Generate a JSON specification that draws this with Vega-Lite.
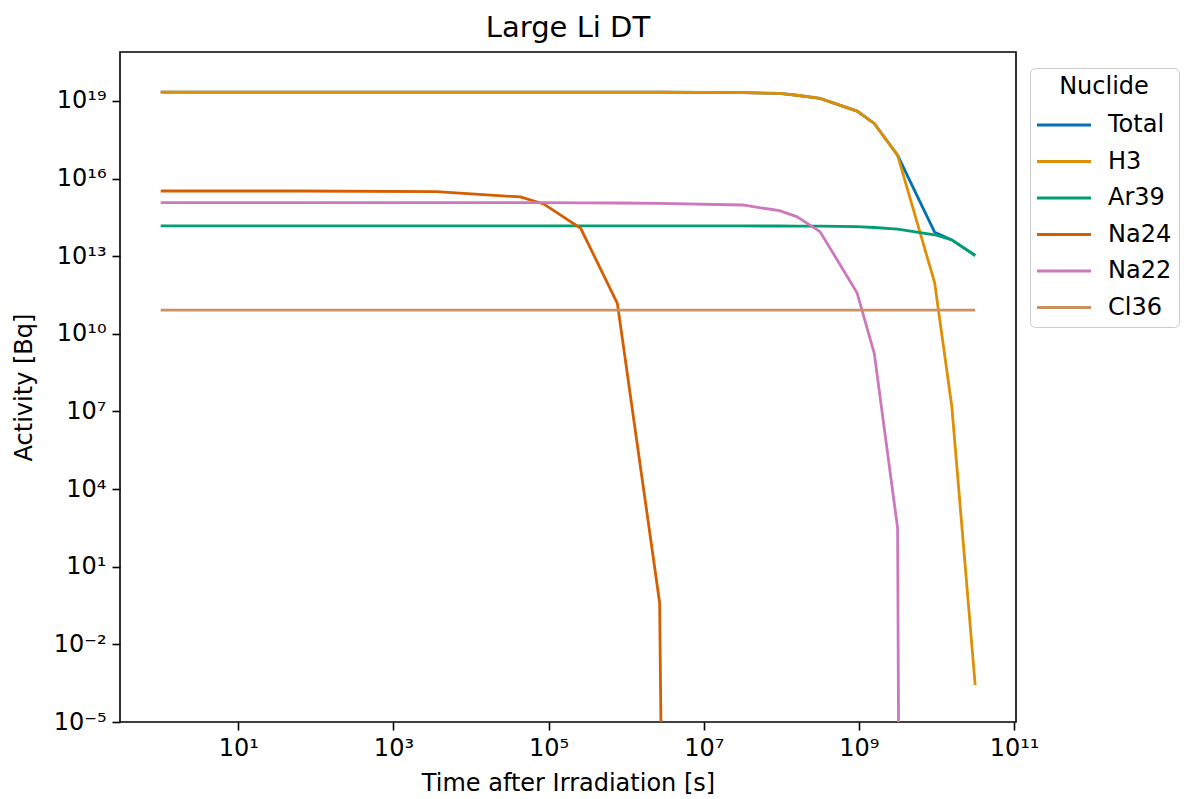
{
  "$schema": "https://vega.github.io/schema/vega-lite/v6.json",
  "width": 896,
  "height": 670,
  "autosize": "none",
  "padding": {"left": 120, "top": 52, "right": 168, "bottom": 77},
  "title": {"text": "Large Li DT", "fontSize": 29, "fontWeight": "normal", "font": "DejaVu Sans", "color": "black", "anchor": "middle", "offset": 9},
  "data": {
    "values": [
      {"t": 1, "nuclide": "Total", "a": 2.19e19},
      {"t": 60, "nuclide": "Total", "a": 2.19e19},
      {"t": 3600, "nuclide": "Total", "a": 2.19e19},
      {"t": 43200, "nuclide": "Total", "a": 2.19e19},
      {"t": 86400, "nuclide": "Total", "a": 2.19e19},
      {"t": 259200, "nuclide": "Total", "a": 2.19e19},
      {"t": 770000, "nuclide": "Total", "a": 2.19e19},
      {"t": 2700000, "nuclide": "Total", "a": 2.18e19},
      {"t": 31560000, "nuclide": "Total", "a": 2.09e19},
      {"t": 94670000, "nuclide": "Total", "a": 1.95e19},
      {"t": 157800000, "nuclide": "Total", "a": 1.66e19},
      {"t": 315600000, "nuclide": "Total", "a": 1.26e19},
      {"t": 946700000, "nuclide": "Total", "a": 4.07e18},
      {"t": 1578000000, "nuclide": "Total", "a": 1.35e18},
      {"t": 3156000000, "nuclide": "Total", "a": 7.95e16},
      {"t": 9467000000, "nuclide": "Total", "a": 8.51e13},
      {"t": 15780000000, "nuclide": "Total", "a": 4.27e13},
      {"t": 31560000000, "nuclide": "Total", "a": 1.07e13},

      {"t": 1, "nuclide": "H3", "a": 2.19e19},
      {"t": 60, "nuclide": "H3", "a": 2.19e19},
      {"t": 3600, "nuclide": "H3", "a": 2.19e19},
      {"t": 43200, "nuclide": "H3", "a": 2.19e19},
      {"t": 86400, "nuclide": "H3", "a": 2.19e19},
      {"t": 259200, "nuclide": "H3", "a": 2.19e19},
      {"t": 770000, "nuclide": "H3", "a": 2.19e19},
      {"t": 2700000, "nuclide": "H3", "a": 2.18e19},
      {"t": 31560000, "nuclide": "H3", "a": 2.09e19},
      {"t": 94670000, "nuclide": "H3", "a": 1.95e19},
      {"t": 157800000, "nuclide": "H3", "a": 1.66e19},
      {"t": 315600000, "nuclide": "H3", "a": 1.26e19},
      {"t": 946700000, "nuclide": "H3", "a": 4.07e18},
      {"t": 1578000000, "nuclide": "H3", "a": 1.35e18},
      {"t": 3156000000, "nuclide": "H3", "a": 7.94e16},
      {"t": 9467000000, "nuclide": "H3", "a": 9.55e11},
      {"t": 15780000000, "nuclide": "H3", "a": 1.55e7},
      {"t": 31560000000, "nuclide": "H3", "a": 2.69e-4},

      {"t": 1, "nuclide": "Ar39", "a": 1.48e14},
      {"t": 60, "nuclide": "Ar39", "a": 1.48e14},
      {"t": 3600, "nuclide": "Ar39", "a": 1.48e14},
      {"t": 43200, "nuclide": "Ar39", "a": 1.48e14},
      {"t": 86400, "nuclide": "Ar39", "a": 1.48e14},
      {"t": 259200, "nuclide": "Ar39", "a": 1.48e14},
      {"t": 770000, "nuclide": "Ar39", "a": 1.48e14},
      {"t": 2700000, "nuclide": "Ar39", "a": 1.48e14},
      {"t": 31560000, "nuclide": "Ar39", "a": 1.48e14},
      {"t": 94670000, "nuclide": "Ar39", "a": 1.47e14},
      {"t": 157800000, "nuclide": "Ar39", "a": 1.46e14},
      {"t": 315600000, "nuclide": "Ar39", "a": 1.45e14},
      {"t": 946700000, "nuclide": "Ar39", "a": 1.38e14},
      {"t": 1578000000, "nuclide": "Ar39", "a": 1.29e14},
      {"t": 3156000000, "nuclide": "Ar39", "a": 1.12e14},
      {"t": 9467000000, "nuclide": "Ar39", "a": 6.76e13},
      {"t": 15780000000, "nuclide": "Ar39", "a": 4.27e13},
      {"t": 31560000000, "nuclide": "Ar39", "a": 1.07e13},

      {"t": 1, "nuclide": "Na24", "a": 3.31e15},
      {"t": 60, "nuclide": "Na24", "a": 3.31e15},
      {"t": 3600, "nuclide": "Na24", "a": 3.16e15},
      {"t": 43200, "nuclide": "Na24", "a": 1.95e15},
      {"t": 86400, "nuclide": "Na24", "a": 1.05e15},
      {"t": 259200, "nuclide": "Na24", "a": 1.20e14},
      {"t": 770000, "nuclide": "Na24", "a": 1.51e11},
      {"t": 2700000, "nuclide": "Na24", "a": 0.407},
      {"t": 31560000, "nuclide": "Na24", "a": 1e-300},

      {"t": 1, "nuclide": "Na22", "a": 1.17e15},
      {"t": 60, "nuclide": "Na22", "a": 1.17e15},
      {"t": 3600, "nuclide": "Na22", "a": 1.17e15},
      {"t": 43200, "nuclide": "Na22", "a": 1.17e15},
      {"t": 86400, "nuclide": "Na22", "a": 1.17e15},
      {"t": 259200, "nuclide": "Na22", "a": 1.16e15},
      {"t": 770000, "nuclide": "Na22", "a": 1.14e15},
      {"t": 2700000, "nuclide": "Na22", "a": 1.10e15},
      {"t": 31560000, "nuclide": "Na22", "a": 9.55e14},
      {"t": 94670000, "nuclide": "Na22", "a": 5.75e14},
      {"t": 157800000, "nuclide": "Na22", "a": 3.39e14},
      {"t": 315600000, "nuclide": "Na22", "a": 8.91e13},
      {"t": 946700000, "nuclide": "Na22", "a": 3.89e11},
      {"t": 1578000000, "nuclide": "Na22", "a": 1.78e9},
      {"t": 3156000000, "nuclide": "Na22", "a": 309},
      {"t": 9467000000, "nuclide": "Na22", "a": 1e-300},

      {"t": 1, "nuclide": "Cl36", "a": 8.32e10},
      {"t": 60, "nuclide": "Cl36", "a": 8.32e10},
      {"t": 3600, "nuclide": "Cl36", "a": 8.32e10},
      {"t": 43200, "nuclide": "Cl36", "a": 8.32e10},
      {"t": 86400, "nuclide": "Cl36", "a": 8.32e10},
      {"t": 259200, "nuclide": "Cl36", "a": 8.32e10},
      {"t": 770000, "nuclide": "Cl36", "a": 8.32e10},
      {"t": 2700000, "nuclide": "Cl36", "a": 8.32e10},
      {"t": 31560000, "nuclide": "Cl36", "a": 8.32e10},
      {"t": 94670000, "nuclide": "Cl36", "a": 8.32e10},
      {"t": 157800000, "nuclide": "Cl36", "a": 8.32e10},
      {"t": 315600000, "nuclide": "Cl36", "a": 8.32e10},
      {"t": 946700000, "nuclide": "Cl36", "a": 8.32e10},
      {"t": 1578000000, "nuclide": "Cl36", "a": 8.32e10},
      {"t": 3156000000, "nuclide": "Cl36", "a": 8.32e10},
      {"t": 9467000000, "nuclide": "Cl36", "a": 8.32e10},
      {"t": 15780000000, "nuclide": "Cl36", "a": 8.32e10},
      {"t": 31560000000, "nuclide": "Cl36", "a": 8.32e10}
    ]
  },
  "mark": {"type": "line", "strokeWidth": 2.8, "clip": true},
  "encoding": {
    "x": {
      "field": "t",
      "type": "quantitative",
      "scale": {"type": "log", "domain": [0.2985, 1.06e11], "nice": false},
      "axis": {
        "title": "Time after Irradiation [s]",
        "values": [10, 1000, 100000, 10000000, 1000000000, 100000000000],
        "labelExpr": "'10' + (round(log(datum.value)/LN10) < 0 ? '⁻' : '') + (abs(round(log(datum.value)/LN10)) >= 10 ? substring('⁰¹²³⁴⁵⁶⁷⁸⁹', floor(abs(round(log(datum.value)/LN10))/10), floor(abs(round(log(datum.value)/LN10))/10) + 1) : '') + substring('⁰¹²³⁴⁵⁶⁷⁸⁹', abs(round(log(datum.value)/LN10)) % 10, abs(round(log(datum.value)/LN10)) % 10 + 1)",
        "labelPadding": 6,
        "titlePadding": 11
      }
    },
    "y": {
      "field": "a",
      "type": "quantitative",
      "scale": {"type": "log", "domain": [1e-5, 7.8e20], "nice": false},
      "axis": {
        "title": "Activity [Bq]",
        "values": [1e-5, 0.01, 10, 10000, 10000000, 10000000000, 10000000000000, 10000000000000000, 10000000000000000000],
        "labelExpr": "'10' + (round(log(datum.value)/LN10) < 0 ? '⁻' : '') + (abs(round(log(datum.value)/LN10)) >= 10 ? substring('⁰¹²³⁴⁵⁶⁷⁸⁹', floor(abs(round(log(datum.value)/LN10))/10), floor(abs(round(log(datum.value)/LN10))/10) + 1) : '') + substring('⁰¹²³⁴⁵⁶⁷⁸⁹', abs(round(log(datum.value)/LN10)) % 10, abs(round(log(datum.value)/LN10)) % 10 + 1)",
        "labelPadding": 6,
        "titlePadding": 17
      }
    },
    "color": {
      "field": "nuclide",
      "type": "nominal",
      "sort": ["Total", "H3", "Ar39", "Na24", "Na22", "Cl36"],
      "scale": {
        "domain": ["Total", "H3", "Ar39", "Na24", "Na22", "Cl36"],
        "range": ["#0173b2", "#de8f05", "#029e73", "#d55e00", "#cc78bc", "#ca9161"]
      },
      "legend": {
        "title": "Nuclide",
        "orient": "none",
        "legendX": 910,
        "legendY": 16,
        "padding": 7,
        "strokeColor": "#cccccc",
        "fillColor": "white",
        "cornerRadius": 5,
        "symbolType": "M-2,0H2",
        "symbolStrokeWidth": 3,
        "symbolSize": 729,
        "symbolOffset": 12,
        "labelFontSize": 24,
        "titleFontSize": 24,
        "titleFontWeight": "normal",
        "titleAnchor": "middle",
        "titlePadding": 11,
        "labelOffset": 29,
        "rowPadding": 9.5
      }
    }
  },
  "config": {
    "font": "DejaVu Sans",
    "view": {"stroke": "black", "strokeWidth": 1.6},
    "axis": {
      "domain": false,
      "grid": false,
      "tickColor": "black",
      "tickWidth": 1.6,
      "tickSize": 8,
      "labelColor": "black",
      "labelFontSize": 24,
      "titleFontSize": 24,
      "titleFontWeight": "normal",
      "titleColor": "black",
      "labelFont": "DejaVu Sans",
      "titleFont": "DejaVu Sans"
    },
    "legend": {"labelColor": "black", "titleColor": "black", "labelFont": "DejaVu Sans", "titleFont": "DejaVu Sans"}
  }
}
